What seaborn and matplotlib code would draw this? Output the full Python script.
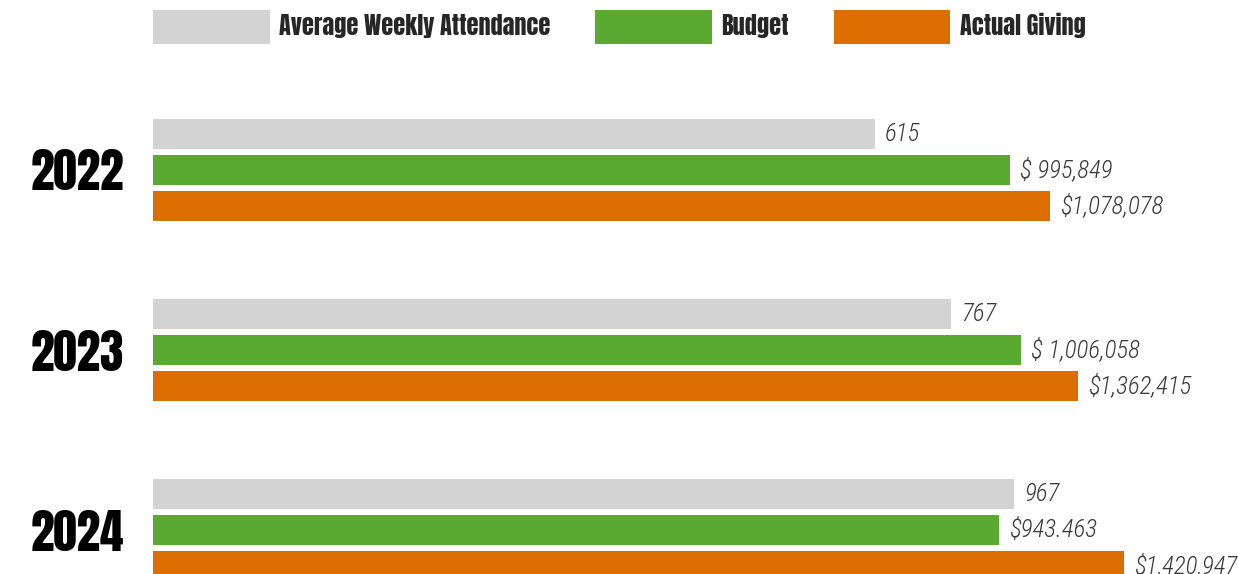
import pandas as pd
import seaborn as sns
from matplotlib import pyplot as plt

# chart data
years = ["2022", "2023", "2024"]
series = ["Average Weekly Attendance", "Budget", "Actual Giving"]
# drawn bar lengths (the infographic does not scale bars to the values)
attendance_len = [722, 798, 861]
budget_len = [857, 868, 846]
giving_len = [897, 925, 971]
# value labels as printed
attendance_lbl = ["615", "767", "967"]
budget_lbl = ["$ 995,849", "$ 1,006,058", "$943.463"]
giving_lbl = ["$1,078,078", "$1,362,415", "$1,420,947"]

colors = ["#d3d3d3", "#5aaa32", "#dc6e00"]

df = pd.DataFrame(
    {
        "year": years * 3,
        "series": [s for s in series for _ in years],
        "length": attendance_len + budget_len + giving_len,
    }
)

sns.set_style("white")
plt.rcParams["font.family"] = ["Roboto Condensed", "DejaVu Sans"]
head_font = ["Anton", "League Gothic", "DejaVu Sans"]

fig = plt.figure(figsize=(12.38, 5.74), dpi=100)
left = 153 / 1238
ax = fig.add_axes([left, 0, 1 - left, 1])

sns.barplot(
    data=df,
    x="length",
    y="year",
    hue="series",
    hue_order=series,
    order=years,
    palette=colors,
    saturation=1,
    width=0.6,
    gap=0.17,
    linewidth=0,
    orient="h",
    ax=ax,
)

# value labels at the bar ends
for cont, lbls in zip(ax.containers, [attendance_lbl, budget_lbl, giving_lbl]):
    ax.bar_label(cont, labels=lbls, padding=7, fontsize=18, style="italic",
                 fontweight="light", color="#3a3a3a")

ax.set_xlim(0, 1238 - 153)
ax.set_ylim(2.244, -0.944)
ax.set_xlabel("")
ax.set_ylabel("")
ax.set_xticks([])
ax.tick_params(axis="y", length=0, pad=21)
for t in ax.get_yticklabels():
    t.set_fontsize(34)
    t.set_family(head_font)
    t.set_color("black")
sns.despine(ax=ax, left=True, bottom=True)

# legend across the top
handles, labels = ax.get_legend_handles_labels()
ax.get_legend().remove()
leg = fig.legend(
    handles,
    labels,
    loc="upper left",
    bbox_to_anchor=(left, 1 - 10 / 574),
    ncol=3,
    frameon=False,
    borderpad=0,
    borderaxespad=0,
    handlelength=4.8,
    handleheight=1.75,
    handletextpad=0.38,
    columnspacing=1.85,
    prop={"size": 17.5, "family": head_font},
)

fig.savefig("out.png", dpi=100)
